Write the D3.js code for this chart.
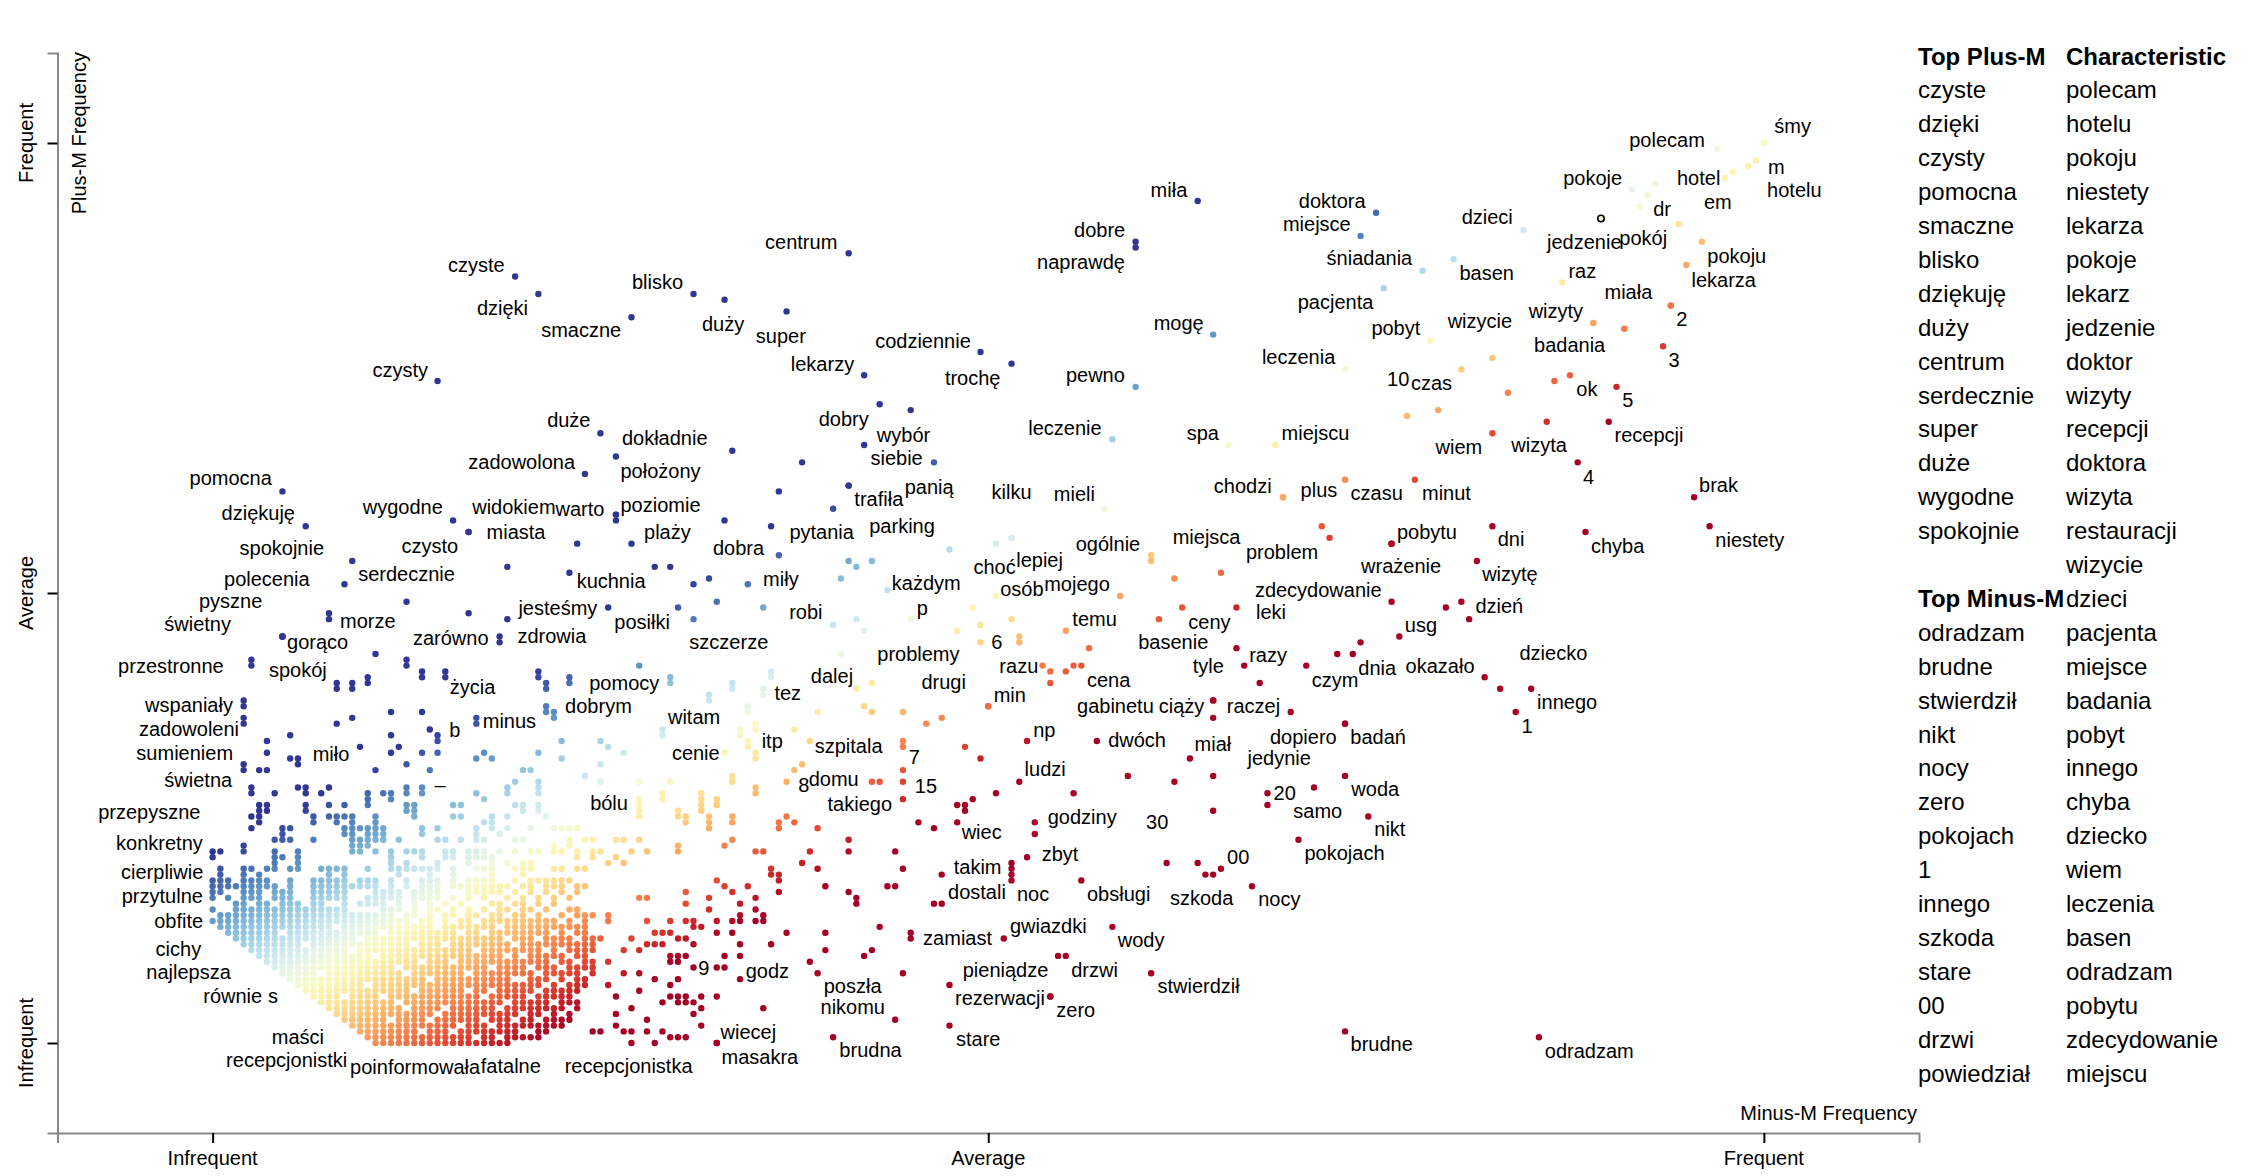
<!DOCTYPE html>
<meta charset="utf-8">
<style>
  body { margin: 0; background: #fff; }
  svg text { font-family: "Liberation Sans", Arial, Helvetica, sans-serif; fill: #000; }
  .axis .domain { stroke: #888; stroke-width: 2; }
  .axis .tick line { stroke: #000; stroke-width: 2; }
  .axis text { display: none; }
</style>
<script src="https://d3js.org/d3.v7.min.js"></script>
<div id="chart"></div>
<script>
// dense frequency ranks: x = Minus-M rank (0..200), y = Plus-M rank (0..155)
var X_RANKS = 200, Y_RANKS = 155;

var topPlus = ["czyste","dzięki","czysty","pomocna","smaczne","blisko","dziękuję","duży","centrum","serdecznie","super","duże","wygodne","spokojnie"];
var topMinus = ["odradzam","brudne","stwierdził","nikt","nocy","zero","pokojach","1","innego","szkoda","stare","00","drzwi","powiedział"];
var characteristic = ["polecam","hotelu","pokoju","niestety","lekarza","pokoje","lekarz","jedzenie","doktor","wizyty","recepcji","doktora","wizyta","restauracji","wizycie","dzieci","pacjenta","miejsce","badania","pobyt","innego","chyba","dziecko","wiem","leczenia","basen","odradzam","pobytu","zdecydowanie","miejscu"];
var highlighted = "jedzenie";

// labelled terms: [term, minus rank, plus rank]
var labeledTerms = [
  ["czyste",39,132],["dzięki",42,129],["blisko",62,129],["smaczne",54,125],["duży",66,128],["super",74,126],
  ["czysty",29,114],["centrum",82,136],["miła",127,145],["dobre",119,138],["naprawdę",119,137],["codziennie",99,119],
  ["trochę",103,117],["lekarzy",84,115],["mogę",129,122],["pewno",119,113],["dobry",86,110],["wybór",90,109],
  ["siebie",93,100],["leczenie",116,104],["spa",131,103],["miejscu",137,103],["dokładnie",67,102],["duże",50,105],
  ["zadowolona",48,98],["położony",52,101],["pomocna",9,95],["dziękuję",12,89],["wygodne",31,90],["warto",52,91],
  ["widokiem",52,90],["poziomie",52,91],["miasta",33,88],["czysto",33,88],["plaży",54,86],["kuchnia",46,81],
  ["serdecznie",25,76],["spokojnie",18,83],["polecenia",17,79],["pyszne",9,70],["świetny",9,70],["gorąco",9,70],
  ["morze",15,73],["jesteśmy",51,75],["zdrowia",38,73],["zarówno",37,70],["posiłki",60,75],["przestronne",5,66],
  ["spokój",16,62],["życia",30,64],["pomocy",59,63],["wspaniały",4,59],["zadowoleni",4,56],["sumieniem",4,48],
  ["świetna",5,44],["miło",11,49],["dobrym",44,57],["minus",34,56],["b",29,53],["–",27,44],
  ["witam",58,54],["cenie",66,50],["itp",69,52],["szpitala",77,52],["7",89,51],["8",74,45],
  ["domu",76,48],["15",89,45],["takiego",89,42],["bólu",55,41],["tez",71,61],["dalej",83,61],
  ["drugi",100,58],["min",100,58],["problemy",96,71],["p",90,73],["każdym",87,78],["robi",80,72],
  ["szczerze",71,75],["miły",69,79],["dobra",73,84],["pytania",80,92],["trafiła",82,96],["panią",82,96],
  ["parking",95,85],["kilku",103,87],["mieli",115,92],["lepiej",103,87],["choć",101,86],["osób",101,77],
  ["mojego",117,77],["ogólnie",121,84],["miejsca",130,81],["problem",144,87],["chodzi",138,94],["plus",138,94],
  ["czasu",146,97],["minut",155,97],["zdecydowanie",152,76],["leki",132,75],["ceny",125,75],["temu",110,71],
  ["basenie",122,73],["razy",132,68],["tyle",133,65],["cena",112,65],["razu",107,65],["6",104,69],
  ["czym",141,65],["dnia",147,67],["usg",153,70],["dzień",162,73],["okazało",164,63],["dziecko",166,61],
  ["innego",170,61],["1",168,57],["raczej",129,59],["ciąży",129,59],["gabinetu",129,56],["dopiero",146,55],
  ["jedynie",139,57],["badań",146,55],["miał",126,49],["dwóch",114,52],["np",105,52],["ludzi",104,45],
  ["godziny",106,38],["wiec",96,38],["zbyt",105,32],["takim",94,29],["dostali",94,24],["noc",103,28],
  ["obsługi",112,28],["30",124,45],["00",130,30],["szkoda",129,29],["nocy",134,27],["20",136,43],
  ["samo",136,41],["woda",146,46],["nikt",149,39],["pokojach",140,35],["brudne",146,2],["odradzam",171,1],
  ["zamiast",90,18],["gwiazdki",102,18],["wody",116,20],["pieniądze",95,10],["drzwi",110,15],["stwierdził",121,12],
  ["rezerwacji",108,8],["zero",108,8],["poszła",89,12],["nikomu",88,4],["brudna",80,1],["stare",95,3],
  ["9",65,13],["godz",68,11],["wiecej",65,0],["masakra",65,0],["recepcjonistka",54,0],["poinformowała",26,0],
  ["fatalne",39,1],["recepcjonistki",19,2],["maści",16,5],["równie",10,11],["s",11,10],["najlepsza",7,14],
  ["cichy",3,18],["obfite",1,20],["przytulne",0,23],["cierpliwie",1,29],["konkretny",0,33],["przepyszne",5,39],
  ["polecam",194,154],["śmy",200,155],["m",199,152],["hotelu",198,151],["em",196,150],["hotel",195,149],
  ["pokoje",183,147],["dr",184,144],["jedzenie",179,142],["pokój",189,141],["pokoju",192,138],["lekarza",190,134],
  ["raz",174,131],["miała",188,127],["2",188,127],["wizyty",178,124],["badania",182,123],["3",187,120],
  ["doktora",150,143],["miejsce",148,139],["dzieci",169,140],["śniadania",156,133],["basen",160,135],["pacjenta",151,130],
  ["pobyt",157,121],["wizycie",165,118],["leczenia",146,116],["czas",161,116],["10",154,108],["ok",175,115],
  ["5",181,113],["recepcji",180,107],["wizyta",172,107],["wiem",165,105],["4",176,100],["brak",191,94],
  ["niestety",193,89],["dni",165,89],["chyba",177,88],["pobytu",152,86],["wrażenie",152,86],["wizytę",163,83]
];

// where each label sits relative to its dot (reference units, 1 unit = 1.4375px)
var labelOffsets = {
  "czyste":[-27,-8],"dzięki":[-25,9.5],"blisko":[-25,-8],"smaczne":[-35,9],"duży":[-1,17],"super":[-4,17],
  "czysty":[-26,-8],"centrum":[-33,-8],"miła":[-20,-8],"dobre":[-25,-8],"naprawdę":[-38,10],"codziennie":[-40,-8],
  "trochę":[-27,10],"lekarzy":[-29,-8],"mogę":[-24,-8],"pewno":[-28,-8],"dobry":[-25,10],"wybór":[-5,17],
  "siebie":[-26,-3],"leczenie":[-33,-8],"spa":[-18,-8],"miejscu":[28,-8],"dokładnie":[-47,-9],"duże":[-22,-9],
  "zadowolona":[-44,-8],"położony":[31,10],"pomocna":[-36,-9],"dziękuję":[-33,-9],"wygodne":[-35,-9],"warto":[-25,-4],
  "widokiem":[-71,-9],"poziomie":[31,-7],"miasta":[33,0],"czysto":[-27,10],"plaży":[25,-8],"kuchnia":[29,6],
  "serdecznie":[0,-19],"spokojnie":[-49,-9],"polecenia":[-54,-4],"pyszne":[-36,-25],"świetny":[-59,-9],"gorąco":[24.5,4],
  "morze":[27,1],"jesteśmy":[-35,0],"zdrowia":[31,12],"zarówno":[-34,1],"posiłki":[-25,10],"przestronne":[-56,4],
  "spokój":[-27,-9],"życia":[19,11],"pomocy":[-32,4],"wspaniały":[-38,3],"zadowoleni":[-38,8],"sumieniem":[-41,-8],
  "świetna":[-37,-5],"miło":[23,-3],"dobrym":[31,-4],"minus":[23,2],"b":[12,-4],"–":[12.5,-2],
  "witam":[22,-9],"cenie":[-20,0],"itp":[17,0],"szpitala":[27,3.5],"7":[8,7],"8":[12,2],
  "domu":[22,10],"15":[16,3],"takiego":[-30,3.5],"bólu":[-21,-1],"tez":[17,3],"dalej":[-17,-9],
  "drugi":[-31,-17],"min":[15,-8],"problemy":[-27,16],"p":[8,-8],"każdym":[27,-5],"robi":[-19,-9],
  "szczerze":[-24,24],"miły":[23,-4],"dobra":[-28,-5],"pytania":[-8,16],"trafiła":[21,9],"panią":[56,1],
  "parking":[-33,-16],"kilku":[0,-32],"mieli":[-21,-10],"lepiej":[19.5,15.6],"choć":[-1,16],"osób":[18,-5],
  "mojego":[-30,-8],"ogólnie":[-30,-8],"miejsca":[-10,-25],"problem":[-33,10],"chodzi":[-28,-8],"plus":[25,-5],
  "czasu":[22,9],"minut":[22,9],"zdecydowanie":[-51,-8],"leki":[24,3],"ceny":[19,10],"temu":[20,-8.5],
  "basenie":[10,16],"razy":[22,5],"tyle":[-25,0],"cena":[19,10],"razu":[-16.5,0],"6":[-15.6,0],
  "czym":[20,10],"dnia":[17,9.5],"usg":[15,-8],"dzień":[21,-9],"okazało":[-31,-8],"dziecko":[37,-25],
  "innego":[25,9],"1":[8,10],"raczej":[28,4],"ciąży":[-22,4],"gabinetu":[-68,-8],"dopiero":[-29,9],
  "jedynie":[-8,32],"badań":[23,9],"miał":[16,-10],"dwóch":[28,-1],"np":[12,-8],"ludzi":[18,-9],
  "godziny":[33,-4],"wiec":[17,7],"zbyt":[23,-2.5],"takim":[25,-5],"dostali":[24.5,-8],"noc":[15,9.5],
  "obsługi":[26,9.5],"30":[-12,28],"00":[12,-8],"szkoda":[-8,16],"nocy":[19,9],"20":[12,0],
  "samo":[35,4],"woda":[21,9],"nikt":[15,9],"pokojach":[32,9.5],"brudne":[25.5,9],"odradzam":[35,9.6],
  "zamiast":[32.6,0],"gwiazdki":[31,-9],"wody":[20,9],"pieniądze":[39,-10.6],"drzwi":[20,10],"stwierdził":[33,9],
  "rezerwacji":[-35,1],"zero":[17.7,9.6],"poszła":[-35,9],"nikomu":[-29.5,-9],"brudna":[26,9],"stare":[20,9],
  "9":[-9,0],"godz":[19,-6],"wiecej":[22,-8],"masakra":[30,10],"recepcjonistka":[-2,16],"poinformowała":[0.6,16.4],
  "fatalne":[-3,20],"recepcjonistki":[-51,20],"maści":[-27,16],"równie":[-40,11.4],"s":[-17.4,7.4],"najlepsza":[-54.5,7.5],
  "cichy":[-40,7],"obfite":[-29,-4],"przytulne":[-35,-9.5],"cierpliwie":[-40.5,-2],"konkretny":[-37,-6],"przepyszne":[-71,-3],
  "polecam":[-35,-6],"śmy":[20,-11.6],"m":[14,4.6],"hotelu":[32,16.8],"em":[-10.4,20.7],"hotel":[-18.4,0.2],
  "pokoje":[-27.4,-8.1],"dr":[15.5,1.4],"jedzenie":[-11.6,16.5],"pokój":[-24.6,9.3],"pokoju":[24.3,9.8],"lekarza":[26,10.3],
  "raz":[14,-8],"miała":[-29.5,-9.3],"2":[7.7,9.3],"wizyty":[-26,-8.6],"badania":[-38,11.6],"3":[7.7,9.8],
  "doktora":[-30.5,-8.2],"miejsce":[-30.4,-8.2],"dzieci":[-25.2,-8.8],"śniadania":[-37,-9],"basen":[23,9.8],"pacjenta":[-33.6,9.4],
  "pobyt":[-24,-8.5],"wizycie":[-8.7,-25.4],"leczenia":[-32.3,-8.9],"czas":[-20.8,9.3],"10":[-6.2,-25.6],"ok":[11.8,9.6],
  "5":[7.8,9],"recepcji":[28,9.3],"wizyta":[-5.3,16.5],"wiem":[-23.3,9.7],"4":[7.6,10],"brak":[17,-8.2],
  "niestety":[28,9.8],"dni":[13,8.6],"chyba":[22.4,9.4],"pobytu":[24.6,-8.1],"wrażenie":[6.6,15.6],"wizytę":[23,9.3]
};

// low-frequency terms fill whole runs of the rank lattice: [plus rank, first minus rank, last minus rank]
var denseRows = [
  [0,21,38],[1,20,42],[2,19,44],[3,18,45],[4,17,46],[5,16,46],[6,15,47],[7,14,47],[8,13,47],[9,12,48],
  [10,11,48],[11,10,48],[12,9,49],[13,8,49],[14,7,49],[15,6,49],[16,5,50],[17,4,50],[18,3,50],[19,2,49],[20,1,48]
];
// gaps inside those runs: [minus rank, plus rank]
var denseHoles = [[24,7],[32,3],[25,12],[40,11],[45,5],[47,8],[38,15],[42,18],[44,14],[46,3],[43,1],[41,2],
  [48,12],[49,15],[36,9],[39,1],[40,2],[42,4],[44,7],[45,10],
  [27,2],[30,6],[35,4],[33,9],[28,11],[31,14],[26,17],[22,19],[18,16],[14,12],[12,17],[9,19],[20,10],[17,8],
  [23,4],[37,6],[39,4],[41,8],[43,10],[46,6],[48,3],[50,17],[49,19],[47,14],[45,16],[44,19],[42,12],[40,15],
  [38,18],[36,13],[34,16],[32,19],[29,20],[39,11],[41,0],[37,1],[35,8],[45,13],[47,18],[48,9],[43,5],[46,11],
  [50,16],[49,11],[44,2],[40,5],[36,3],[38,7],[42,9],[46,15],[48,6],[44,11],[41,13],[39,17],[37,20],[43,16],
  [34,1],[31,2],[29,5],[26,9],[24,13],[21,15],[19,18],[16,20],[47,4],[45,1],[42,0],[49,8],[50,13],[46,19],
  [33,12],[30,17],[35,19],[27,14],[25,6],[22,8],[28,4]];

// sparser lattice rows: plus rank -> minus ranks present
var sparseRows = [
  [21,"0-25 27 28 30 32 33 35 36-44 46 48 51"],
  [22,"1-23 25 26 28 30 31 33 34 36 37 39 40 42 45 47 48 49"],
  [23,"0 3-17 22 23 24 26 28 29 31 33 35 37 38 40 41 43 46 47"],
  [24,"3 4 6 7 9 10 11 13 14 17 19 20 21 22 24 26 28 30 32 36 37 39 40 42 44"],
  [25,"0 2 4 5 6 8 9 10 13 14 15 16 17 20 21 22 23 24 26 27 28 29 31 33 35 38 40 42 44 46"],
  [26,"0 1 4 5 6 8 9 10 13 14 15 16 17 21 22 23 24 26 27 28 29 33 34 35 36 37 39 41 43 45 47"],
  [27,"0 1 2 3 4 5 6 7 8 10 13 14 15 16 17 18 19 20 21 23 25 27 28 29 31 32 33 34 35 36 37 38 40 41 43 44 45 47 48"],
  [28,"0 1 2 4 5 6 7 10 13 14 15 16 17 19 20 21 23 25 27 28 29 31 33 34 35 36 39 41 42 43 44 45 46"],
  [29,"4 6 15 17 24 28 31 36 40"],
  [30,"1 4 5 7 8 10 11 14 15 16 17 20 23 24 25 26 27 28 29 31 34 35 36 39 40 41 44 45 47 48"],
  [31,"8 11 23 25 29 33 36 38 40 41 51 53"],
  [32,"0 8 9 11 23 27 30 31 33 34 35 36 47 49 52"],
  [33,"0 1 4 8 11 18 19 21 23 25 26 27 30 31 33 34 35 37 39 41 42 44 45 47 49 50 54 56 60"],
  [34,"4 18 19 20 44 46 60"],
  [35,"8 9 10 13 18 19 20 21 22 24 29 30 32 34 35 39 40 46 48 49 52 53 55"],
  [36,"9 17 18 20 21 22 27 34 37"],
  [37,"5 9 10 17 18 19 20 21 22 27 29 34 36 38 41 44 45 46 47 64"],
  [38,"6 13 16 18 21 35 36 61 64 67"],
  [39,"5 6 13 15 16 17 18 21 26 31 32 36 38 43 55 60"],
  [40,"6 7 12 25 26 40 42 55 63"],
  [41,"6 7 12 15 17 20 25 26 31 32 39 40 42 63 65"],
  [42,"20 23 35 55 58 63"],
  [43,"5 8 12 14 20 22 23 25 27 34 38 42 70"],
  [44,"11 12 15 25 38 42"],
  [45,"39 42 50 55 67"],
  [46,"48"],
  [47,"4 6 7 21 28 40 41"],
  [48,"11 25 50"],
  [49,"10 34 36 45 70"],
  [50,"7 23 27 29 35 42 53"],
  [51,"19 24 51 69"],
  [52,"7 29 45 50"],
  [53,"10 23 58 68"],
  [54,"28 70"],
  [55,"4 16 34"],
  [56,"18 44"],
  [57,"23 27 43 69"],
  [58,"4"],
  [59,"64"],
  [60,"71"],
  [61,"16 18 43 67"],
  [62,"20 46 59"],
  [63,"27 30 42 72"],
  [65,"5 25 55"]
];

// remaining unlabelled terms: [minus rank, plus rank]
var otherDots = [
  [55,25],[56,25],[51,22],[56,21],[57,19],[58,19],[54,18],[55,16],[56,17],[57,17],[58,17],[49,2],[50,2],[52,3],
  [53,2],[54,2],[56,2],[57,0],[58,2],[51,10],[52,8],[53,12],[54,6],[55,9],[56,4],[57,11],[58,7],[51,14],[53,16],
  [52,5],[55,12],[61,26],[61,24],[64,25],[64,23],[68,24],[68,22],[71,22],[72,30],[73,28],[73,26],[59,21],[61,21],
  [62,21],[63,20],[65,21],[67,21],[68,21],[70,21],[71,21],[65,19],[67,19],[74,19],[59,19],[60,18],[61,18],[62,17],
  [59,15],[59,14],[60,15],[62,13],[66,13],[68,15],[72,17],[63,8],[65,8],[71,6],[59,10],[60,8],[61,7],[62,5],[63,3],
  [59,1],[60,1],[63,6],[61,8],[62,7],[60,7],[59,8],[61,1],[66,15],[68,17],[70,25],[70,23],[69,27],[70,33],[71,33],
  [66,34],[67,35],[65,28],[66,27],[67,26],[62,20],[64,25],[65,19],[60,14],[60,11],[59,14],[61,15],[72,29],
  [108,64],[110,64],[111,65],[108,62],[85,62],[84,58],[85,57],[78,57],[89,57],[75,54],[89,52],[92,55],[94,56],
  [97,51],[99,49],[75,47],[85,45],[86,45],[89,47],[73,38],[74,39],[75,38],[78,37],[82,35],[82,33],[76,31],[77,33],
  [78,30],[79,27],[82,26],[83,25],[83,24],[87,27],[88,27],[88,33],[89,30],[91,38],[93,37],[96,41],[97,41],[97,40],
  [98,42],[101,43],[103,31],[103,30],[103,29],[106,36],[111,43],[93,24],[73,29],[74,19],[79,19],[79,16],[77,14],
  [78,12],[84,15],[85,16],[86,20],[90,19],[109,15],
  [57,82],[59,82],[62,79],[64,80],[81,80],[83,82],[85,83],[60,75],[62,73],[65,76],[83,73],[84,71],[98,75],[99,72],
  [103,73],[99,69],[104,70],[113,68],[135,62],[145,67],[59,63],[64,60],[67,62],[72,64],[81,67],[69,58],[68,54],
  [70,55],[70,50],[84,58],[129,56],[59,45],[58,43],[63,43],[63,42],[63,41],[65,42],[67,46],[70,44],[118,46],
  [129,46],[129,40],[142,44],[60,40],[61,39],[64,39],[64,38],[67,39],[73,37],[159,75],[161,76],[148,69],
  [123,31],[127,31],[128,29],[84,103],[76,100],[73,95],[66,90],[72,89],[82,83],[124,80],[143,89],[121,83],[47,86],
  [38,82],[15,74],[33,74],[37,69],[21,67],[25,66],[20,63],[18,62],[27,64],[42,64],[43,62],[46,63],[43,58],
  [186,148],[185,146],[173,114],[167,112],[158,109]
];

var S = 1.4375;
var width = 2254, height = 1176;

var svg = d3.select("#chart").append("svg")
    .attr("width", width)
    .attr("height", height);

var x = d3.scaleLinear().domain([-0.1, 1.1]).range([57.5, 1919]);
var y = d3.scaleLinear().domain([-0.1, 1.1]).range([1133, 53]);

var color = function(d) {
  var s = 0.5 + 2.4 * (d.y - d.x);
  return d3.interpolateRdYlBu(Math.max(0, Math.min(1, s)));
};

// collect points
var dots = [], seen = new Set();
function addDot(c, r, term) {
  var k = c + "," + r;
  if (!term && seen.has(k)) return;
  seen.add(k);
  dots.push({x: c / X_RANKS, y: r / Y_RANKS, term: term});
}
function parseCols(s) {
  var out = [];
  s.split(" ").forEach(function(p) {
    if (p.indexOf("-") > 0) {
      var ab = p.split("-").map(Number);
      for (var c = ab[0]; c <= ab[1]; c++) out.push(c);
    } else out.push(+p);
  });
  return out;
}
labeledTerms.forEach(function(t) { addDot(t[1], t[2], t[0]); });
var holes = new Set(denseHoles.map(function(h) { return h[0] + "," + h[1]; }));
denseRows.forEach(function(r) {
  for (var c = r[1]; c <= r[2]; c++) if (!holes.has(c + "," + r[0])) addDot(c, r[0]);
});
sparseRows.forEach(function(r) { parseCols(r[1]).forEach(function(c) { addDot(c, r[0]); }); });
otherDots.forEach(function(d) { addDot(d[0], d[1]); });

// axes
var ticks = [0, 0.5, 1], tickNames = ["Infrequent", "Average", "Frequent"];
svg.append("g").attr("class", "axis")
  .attr("transform", "translate(57.5,0)")
  .call(d3.axisLeft(y).tickValues(ticks).tickSize(10).tickSizeOuter(10));
svg.append("g").attr("class", "axis")
  .attr("transform", "translate(0,1133)")
  .call(d3.axisBottom(x).tickValues(ticks).tickSize(10).tickSizeOuter(10));

ticks.forEach(function(t, i) {
  svg.append("text")
    .attr("transform", "translate(26," + y(t) + ") rotate(-90)")
    .attr("text-anchor", "middle").attr("dominant-baseline", "central")
    .attr("font-size", "20px").text(tickNames[i]);
  svg.append("text")
    .attr("x", x(t)).attr("y", 1158)
    .attr("text-anchor", "middle").attr("dominant-baseline", "central")
    .attr("font-size", "20px").text(tickNames[i]);
});
svg.append("text")
  .attr("transform", "translate(79,52) rotate(-90)")
  .attr("text-anchor", "end").attr("dominant-baseline", "central")
  .attr("font-size", "20px").text("Plus-M Frequency");
svg.append("text")
  .attr("x", 1917).attr("y", 1113)
  .attr("text-anchor", "end").attr("dominant-baseline", "central")
  .attr("font-size", "20px").text("Minus-M Frequency");

// points
svg.append("g").selectAll("circle")
  .data(dots.filter(function(d) { return !d.term; }).concat(dots.filter(function(d) { return d.term; })))
  .enter().append("circle")
    .attr("cx", function(d) { return x(d.x); })
    .attr("cy", function(d) { return y(d.y); })
    .attr("r", 3.2)
    .style("fill", color)
    .style("stroke", function(d) { return d.term === highlighted ? "#000" : "none"; })
    .style("stroke-width", 1.6);

// labels
svg.append("g").selectAll("text")
  .data(dots.filter(function(d) { return d.term; }))
  .enter().append("text")
    .attr("x", function(d) { return x(d.x) + labelOffsets[d.term][0] * S; })
    .attr("y", function(d) { return y(d.y) + labelOffsets[d.term][1] * S; })
    .attr("text-anchor", "middle")
    .attr("dominant-baseline", "central")
    .attr("font-size", "20px")
    .text(function(d) { return d.term; });

// term lists on the right
var rowH = 33.9, top0 = 56;
function list(x0, startRow, header, items) {
  svg.append("text").attr("x", x0).attr("y", top0 + startRow * rowH)
    .attr("dominant-baseline", "central").attr("font-size", "24px").attr("font-weight", "bold").text(header);
  items.forEach(function(t, i) {
    svg.append("text").attr("x", x0).attr("y", top0 + (startRow + 1 + i) * rowH)
      .attr("dominant-baseline", "central").attr("font-size", "24px").text(t);
  });
}
list(1918, 0, "Top Plus-M", topPlus);
list(1918, 16, "Top Minus-M", topMinus);
list(2066, 0, "Characteristic", characteristic);
</script>
